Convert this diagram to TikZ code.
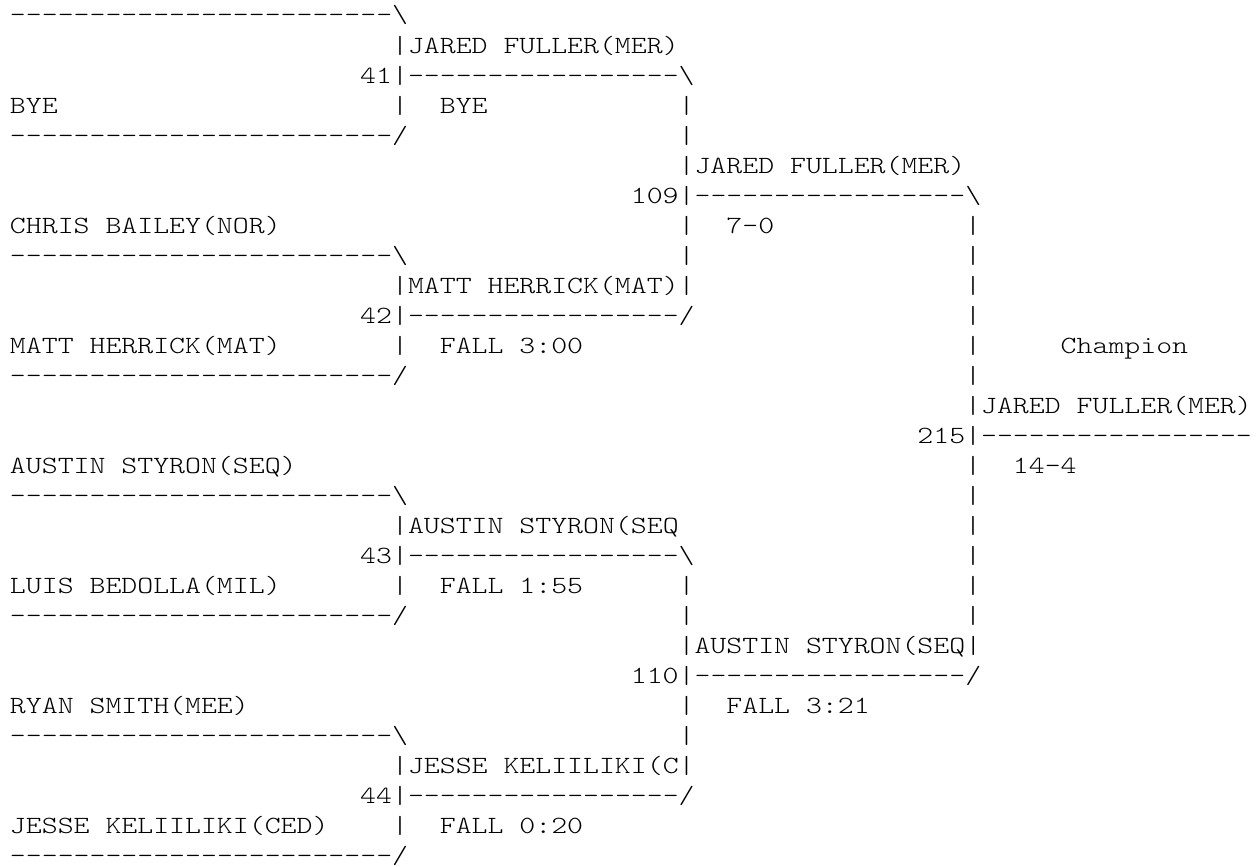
\documentclass[tikz,border=0pt]{standalone}
\usepackage{fontspec}
\setmonofont{lmmonolt10-regular.otf}[FakeStretch=1.227]
\usepackage{tikz}

\newcommand{\bracketfont}{\ttfamily\fontsize{12.36pt}{15pt}\selectfont\frenchspacing}

\begin{document}
\begin{tikzpicture}[
  x=7.96pt, y=-15pt,
  every node/.style={anchor=base west, inner sep=0pt, outer sep=0pt,
                     font=\bracketfont},
]
\path[fill=white, use as bounding box] (0pt,0pt) rectangle (629pt,-433.5pt);
\begin{scope}[shift={(5pt,3.5pt)}]
\foreach \r/\c/\t in {
  1/0/{------------------------\textbackslash},
  2/24/{|JARED FULLER(MER)},
  3/22/{41|-----------------\textbackslash},
  4/0/{BYE}, 4/24/{|}, 4/27/{BYE}, 4/42/{|},
  5/0/{------------------------/}, 5/42/{|},
  6/42/{|JARED FULLER(MER)},
  7/39/{109|-----------------\textbackslash},
  8/0/{CHRIS BAILEY(NOR)}, 8/42/{|}, 8/45/{7-0}, 8/60/{|},
  9/0/{------------------------\textbackslash}, 9/42/{|}, 9/60/{|},
  10/24/{|MATT HERRICK(MAT)|}, 10/60/{|},
  11/22/{42|-----------------/}, 11/60/{|},
  12/0/{MATT HERRICK(MAT)}, 12/24/{|}, 12/27/{FALL 3:00}, 12/60/{|},
  12/66/{Champion},
  13/0/{------------------------/}, 13/60/{|},
  14/60/{|JARED FULLER(MER)},
  15/57/{215|-----------------},
  16/0/{AUSTIN STYRON(SEQ)}, 16/60/{|}, 16/63/{14-4},
  17/0/{------------------------\textbackslash}, 17/60/{|},
  18/24/{|AUSTIN STYRON(SEQ}, 18/60/{|},
  19/22/{43|-----------------\textbackslash}, 19/60/{|},
  20/0/{LUIS BEDOLLA(MIL)}, 20/24/{|}, 20/27/{FALL 1:55}, 20/42/{|},
  20/60/{|},
  21/0/{------------------------/}, 21/42/{|}, 21/60/{|},
  22/42/{|AUSTIN STYRON(SEQ|},
  23/39/{110|-----------------/},
  24/0/{RYAN SMITH(MEE)}, 24/42/{|}, 24/45/{FALL 3:21},
  25/0/{------------------------\textbackslash}, 25/42/{|},
  26/24/{|JESSE KELIILIKI(C|},
  27/22/{44|-----------------/},
  28/0/{JESSE KELIILIKI(CED)}, 28/24/{|}, 28/27/{FALL 0:20},
  29/0/{------------------------/}}
  \node (t\r-\c) at (\c,\r) {\t};
\end{scope}
\end{tikzpicture}
\end{document}
